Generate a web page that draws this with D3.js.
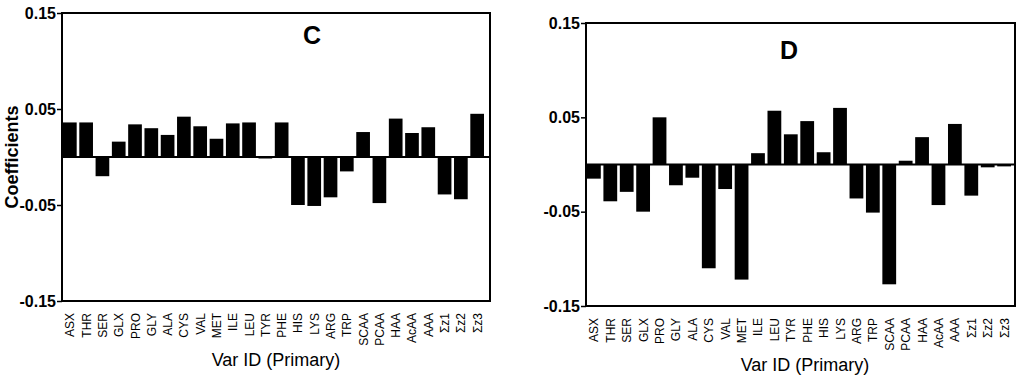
<!DOCTYPE html>
<html>
<head>
<meta charset="utf-8">
<script src="https://cdn.jsdelivr.net/npm/d3@7"></script>
<style>
  body { margin: 0; background: #fff; }
  svg { display: block; font-family: "Liberation Sans", Arial, sans-serif; }
</style>
</head>
<body>
<svg id="chart" width="1024" height="378"></svg>
<script>
// categories shared by both panels
var categories = ["ASX","THR","SER","GLX","PRO","GLY","ALA","CYS","VAL","MET","ILE","LEU","TYR",
                  "PHE","HIS","LYS","ARG","TRP","SCAA","PCAA","HAA","AcAA","AAA","Σz1","Σz2","Σz3"];

// coefficients
var valuesC = [0.036, 0.036, -0.020, 0.016, 0.034, 0.030, 0.023, 0.042, 0.032, 0.019, 0.035, 0.036, -0.001,
               0.036, -0.050, -0.051, -0.042, -0.015, 0.026, -0.048, 0.040, 0.025, 0.031, -0.039, -0.044, 0.045];
var valuesD = [-0.015, -0.039, -0.029, -0.050, 0.050, -0.022, -0.014, -0.110, -0.026, -0.122, 0.012, 0.057, 0.032,
               0.046, 0.013, 0.060, -0.036, -0.051, -0.127, 0.004, 0.029, -0.043, 0.043, -0.033, -0.003, -0.002];

var yTicks = [0.15, 0.05, -0.05, -0.15];
var yDomain = [-0.15, 0.15];

var svg = d3.select('#chart');

drawPanel({left: 62, right: 490, top: 13, bottom: 301, barL: 63, barR: 484,
           letter: 'C', letterX: 312, letterY: 44, yTitle: 'Coefficients', xTitleX: 276}, valuesC);
drawPanel({left: 586, right: 1015, top: 23, bottom: 306, barL: 587, barR: 1011,
           letter: 'D', letterX: 789, letterY: 59, yTitle: null, xTitleX: 805}, valuesD);

function drawPanel(p, values){
  var x = d3.scaleBand()
            .domain(categories)
            .range([p.barL, p.barR])
            .paddingInner(0.16)
            .paddingOuter(0);
  var y = d3.scaleLinear()
            .domain(yDomain)
            .range([p.bottom, p.top]);

  var g = svg.append('g');

  // bars
  g.selectAll('.bar')
    .data(values)
    .enter()
    .append('rect')
      .classed('bar', true)
      .attr('x', (d,i) => x(categories[i]))
      .attr('width', x.bandwidth())
      .attr('y', d => y(Math.max(0, d)))
      .attr('height', d => Math.max(1.5, Math.abs(y(d) - y(0))))
      .attr('fill', '#000');

  // zero line
  g.append('line')
    .attr('x1', p.left).attr('x2', p.right)
    .attr('y1', y(0)).attr('y2', y(0))
    .attr('stroke', '#000').attr('stroke-width', 2);

  // frame
  g.append('rect')
    .attr('x', p.left).attr('y', p.top)
    .attr('width', p.right - p.left).attr('height', p.bottom - p.top)
    .attr('fill', 'none').attr('stroke', '#000').attr('stroke-width', 2);

  // y axis
  var yAxis = d3.axisLeft(y).tickValues(yTicks).tickSize(5).tickPadding(1)
                .tickFormat(d => d3.format('.2f')(d).replace('−', '-'));
  var ya = g.append('g')
            .attr('transform', 'translate(' + p.left + ',0)')
            .call(yAxis);
  ya.select('.domain').remove();
  ya.selectAll('line').attr('stroke', '#000').attr('stroke-width', 1.5);
  ya.selectAll('text')
    .attr('fill', '#000')
    .style('font-size', '16px')
    .style('font-weight', 'bold')
    .style('font-family', '"Liberation Sans", Arial, sans-serif');

  // category labels
  g.selectAll('.cat')
    .data(categories)
    .enter()
    .append('text')
      .classed('cat', true)
      .attr('transform', d => 'translate(' + (x(d) + x.bandwidth()/2 + 4.5) + ',' + (p.bottom + 12) + ') rotate(-90)')
      .attr('text-anchor', 'end')
      .style('font-size', '12px')
      .text(d => d);

  // x title
  g.append('text')
    .attr('x', p.xTitleX).attr('y', p.bottom + 65)
    .attr('text-anchor', 'middle')
    .style('font-size', '18px')
    .text('Var ID (Primary)');

  // panel letter
  g.append('text')
    .attr('x', p.letterX).attr('y', p.letterY)
    .attr('text-anchor', 'middle')
    .style('font-size', '25px').style('font-weight', 'bold')
    .text(p.letter);

  if (p.yTitle) {
    g.append('text')
      .attr('transform', 'translate(18,' + ((p.top + p.bottom)/2) + ') rotate(-90)')
      .attr('text-anchor', 'middle')
      .style('font-size', '18px').style('font-weight', 'bold')
      .text(p.yTitle);
  }
}
</script>
</body>
</html>
